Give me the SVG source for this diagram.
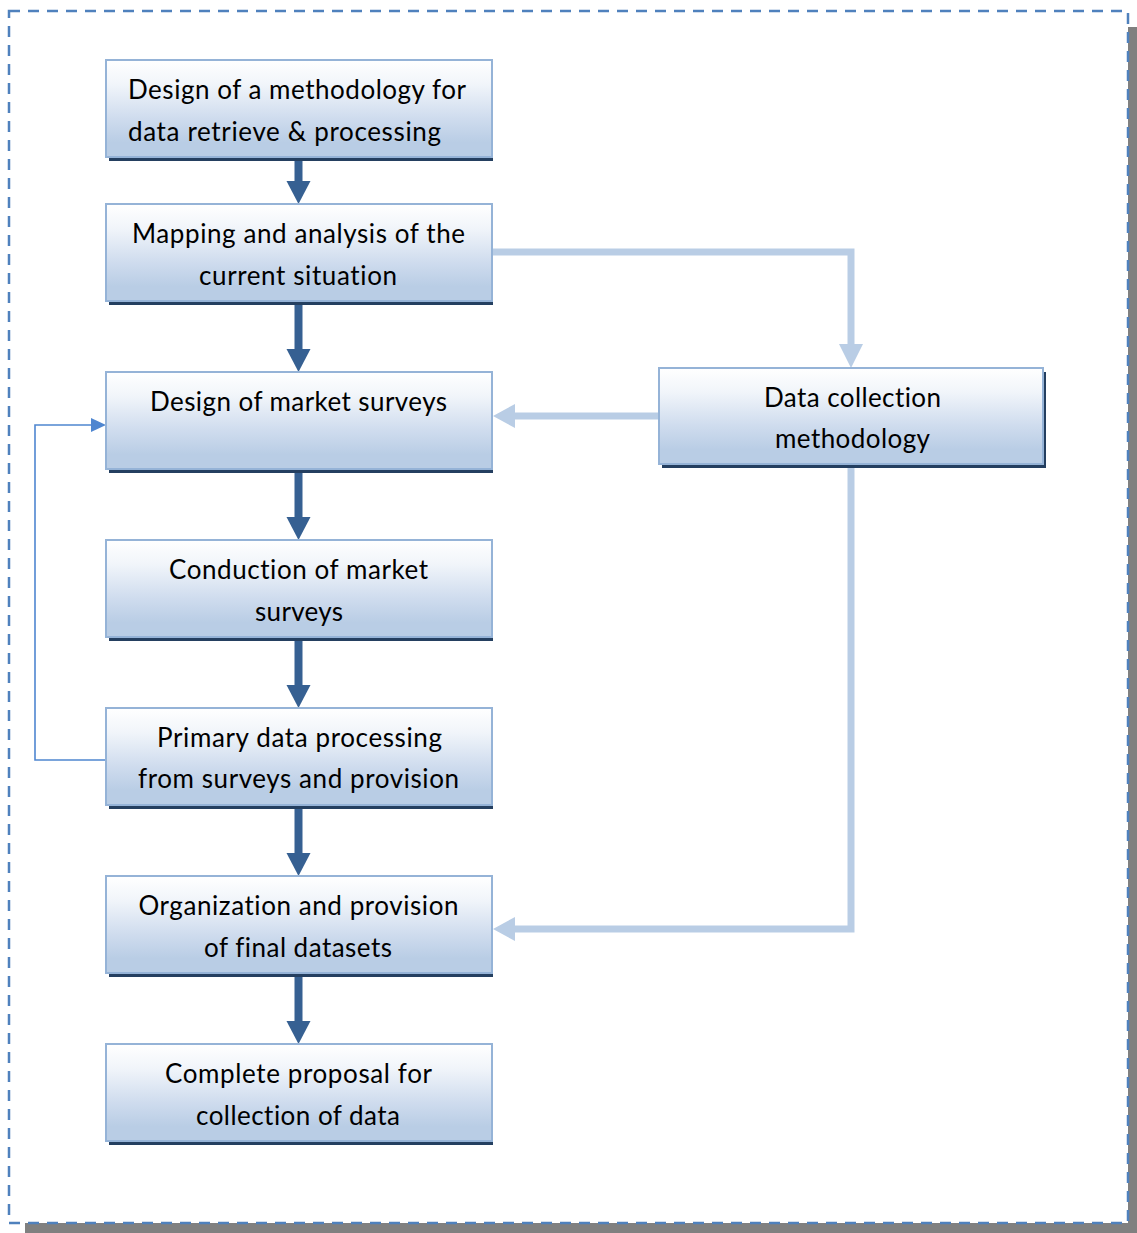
<svg xmlns="http://www.w3.org/2000/svg" width="1137" height="1233" viewBox="0 0 1137 1233">
<defs>
<linearGradient id="boxGrad" x1="0" y1="0" x2="0" y2="1">
<stop offset="0" stop-color="#ffffff"/>
<stop offset="0.25" stop-color="#f1f5fa"/>
<stop offset="0.6" stop-color="#cfdcee"/>
<stop offset="0.85" stop-color="#b9cde5"/>
<stop offset="1" stop-color="#b9cde5"/>
</linearGradient>
<style>
.shadow{fill:#243f60}
.box{fill:url(#boxGrad);stroke:#95b3d7;stroke-width:2}
.lbl{font-family:Lato,"Open Sans","Liberation Sans",sans-serif;font-size:26px;fill:#000;text-anchor:middle;font-variant-ligatures:none;font-feature-settings:"liga" 0}
.dark{fill:#366092}
.light{fill:none;stroke:#b9cde5;stroke-width:7}
.lighthead{fill:#b9cde5}
.thin{fill:none;stroke:#4f86d0;stroke-width:1.6}
.thinhead{fill:#4f86d0}
</style>
</defs>
<rect x="25" y="27" width="1112" height="1206" fill="#808080"/>
<rect x="9" y="11" width="1119" height="1212" fill="#ffffff"/>
<rect x="9" y="11" width="1119" height="1212" fill="none" stroke="#4f81bd" stroke-width="2.5" stroke-dasharray="11 8"/>

<g id="connectors">
<rect class="dark" x="294.5" y="161" width="8" height="21"/><polygon class="dark" points="286.5,181 310.5,181 298.5,204"/>
<rect class="dark" x="294.5" y="305" width="8" height="45"/><polygon class="dark" points="286.5,349 310.5,349 298.5,372"/>
<rect class="dark" x="294.5" y="473" width="8" height="45"/><polygon class="dark" points="286.5,517 310.5,517 298.5,540"/>
<rect class="dark" x="294.5" y="641" width="8" height="45"/><polygon class="dark" points="286.5,685 310.5,685 298.5,708"/>
<rect class="dark" x="294.5" y="809" width="8" height="45"/><polygon class="dark" points="286.5,853 310.5,853 298.5,876"/>
<rect class="dark" x="294.5" y="977" width="8" height="45"/><polygon class="dark" points="286.5,1021 310.5,1021 298.5,1044"/>

<path class="light" d="M493 252 H851 V345"/><polygon class="lighthead" points="839,344 863,344 851,368"/>
<path class="light" d="M659 416 H514"/><polygon class="lighthead" points="515,404 515,428 493,416"/>
<path class="light" d="M851 468 V929 H514"/><polygon class="lighthead" points="515,917 515,941 493,929"/>

<path class="thin" d="M106 760 H35 V425 H92"/><polygon class="thinhead" points="91,418 91,432 106,425"/>
</g>

<g id="node1">
<rect class="shadow" x="109" y="64" width="384" height="97"/>
<rect class="box" x="106" y="60" width="386" height="97"/>
<text class="lbl" x="297" y="99" textLength="338" lengthAdjust="spacing">Design of a methodology for</text>
<text class="lbl" x="284.5" y="141" textLength="313" lengthAdjust="spacing">data retrieve &amp; processing</text>
</g>
<g id="node2">
<rect class="shadow" x="109" y="208" width="384" height="97"/>
<rect class="box" x="106" y="204" width="386" height="97"/>
<text class="lbl" x="298.5" y="243" textLength="333" lengthAdjust="spacing">Mapping and analysis of the</text>
<text class="lbl" x="298" y="285" textLength="198" lengthAdjust="spacing">current situation</text>
</g>
<g id="node3">
<rect class="shadow" x="109" y="376" width="384" height="97"/>
<rect class="box" x="106" y="372" width="386" height="97"/>
<text class="lbl" x="298.5" y="411" textLength="297" lengthAdjust="spacing">Design of market surveys</text>
</g>
<g id="node4">
<rect class="shadow" x="109" y="544" width="384" height="97"/>
<rect class="box" x="106" y="540" width="386" height="97"/>
<text class="lbl" x="298.5" y="579" textLength="259" lengthAdjust="spacing">Conduction of market</text>
<text class="lbl" x="299" y="621" textLength="88" lengthAdjust="spacing">surveys</text>
</g>
<g id="node5">
<rect class="shadow" x="109" y="712" width="384" height="97"/>
<rect class="box" x="106" y="708" width="386" height="97"/>
<text class="lbl" x="299.5" y="747" textLength="285" lengthAdjust="spacing">Primary data processing</text>
<text class="lbl" x="298.5" y="788" textLength="321" lengthAdjust="spacing">from surveys and provision</text>
</g>
<g id="node6">
<rect class="shadow" x="109" y="880" width="384" height="97"/>
<rect class="box" x="106" y="876" width="386" height="97"/>
<text class="lbl" x="298.5" y="915" textLength="320" lengthAdjust="spacing">Organization and provision</text>
<text class="lbl" x="298" y="957" textLength="188" lengthAdjust="spacing">of final datasets</text>
</g>
<g id="node7">
<rect class="shadow" x="109" y="1048" width="384" height="97"/>
<rect class="box" x="106" y="1044" width="386" height="97"/>
<text class="lbl" x="298.5" y="1083" textLength="267" lengthAdjust="spacing">Complete proposal for</text>
<text class="lbl" x="298" y="1125" textLength="204" lengthAdjust="spacing">collection of data</text>
</g>
<g id="node8">
<rect class="shadow" x="662" y="372" width="384" height="96"/>
<rect class="box" x="659" y="368" width="384" height="96"/>
<text class="lbl" x="852.5" y="407" textLength="177" lengthAdjust="spacing">Data collection</text>
<text class="lbl" x="852.5" y="448" textLength="155" lengthAdjust="spacing">methodology</text>
</g>
</svg>
